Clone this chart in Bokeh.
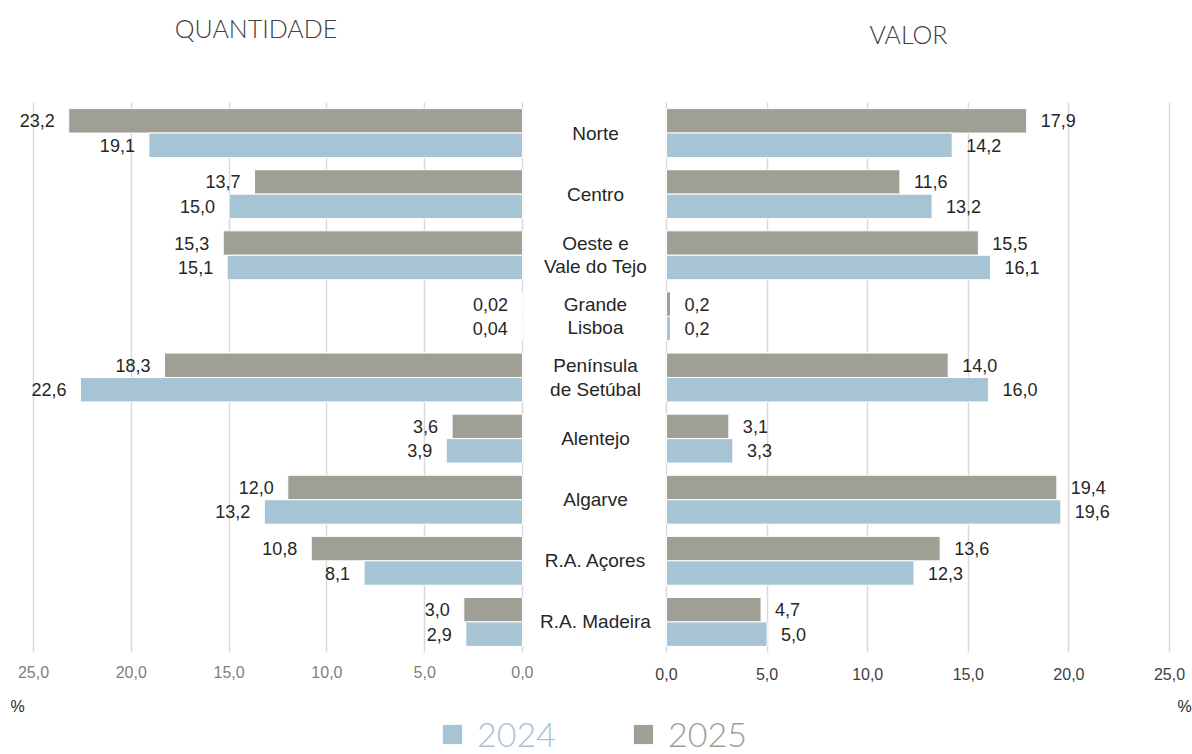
import numpy as np
from bokeh.plotting import figure
from bokeh.layouts import row, column
from bokeh.models import (FactorRange, Range1d, FixedTicker, Label, Legend,
                          LegendItem, ColumnDataSource)
from bokeh.transform import dodge
from bokeh.core.properties import value
from bokeh.embed import file_html
from bokeh.resources import INLINE

# ---------------- data ----------------
regions = ["Norte", "Centro", "Oeste e\nVale do Tejo", "Grande\nLisboa",
           "Península\nde Setúbal", "Alentejo", "Algarve", "R.A. Açores",
           "R.A. Madeira"]
qtd_2024 = [19.1, 15.0, 15.1, 0.04, 22.6, 3.9, 13.2, 8.1, 2.9]
qtd_2025 = [23.2, 13.7, 15.3, 0.02, 18.3, 3.6, 12.0, 10.8, 3.0]
val_2024 = [14.2, 13.2, 16.1, 0.2, 16.0, 3.3, 19.6, 12.3, 5.0]
val_2025 = [17.9, 11.6, 15.5, 0.2, 14.0, 3.1, 19.4, 13.6, 4.7]
tick_values = [0, 5, 10, 15, 20, 25]
tick_labels = ["0,0", "5,0", "10,0", "15,0", "20,0", "25,0"]
years = ["2024", "2025"]
panel_titles = ["QUANTIDADE", "VALOR"]

C2024 = "#A7C4D5"
C2025 = "#A09F96"
GRID = "#D9D9D9"
TXT = "#262626"
NUMFONT = "Liberation Sans"
THIN = "Lato Light"


def fmt(v):
    s = f"{v:.2f}" if v < 0.1 else f"{v:.1f}"
    return s.replace(".", ",")


def plain(p):
    p.outline_line_color = None
    p.background_fill_color = "white"
    p.border_fill_color = "white"
    p.xgrid.visible = False
    p.ygrid.visible = False


def base_fig(width, height, x_range, top, bottom):
    p = figure(width=width, height=height, x_range=x_range,
               y_range=FactorRange(factors=list(reversed(regions))),
               output_backend="svg", toolbar_location=None,
               y_axis_location=None, min_border_left=0, min_border_right=0,
               min_border_top=top, min_border_bottom=bottom)
    p.outline_line_color = None
    p.background_fill_color = "white"
    p.border_fill_color = "white"
    p.ygrid.visible = False
    return p


def style_xaxis(p, color, standoff):
    p.xaxis.ticker = FixedTicker(ticks=tick_values)
    p.xaxis.major_label_overrides = dict(zip(tick_values, tick_labels))
    p.xaxis.axis_line_color = None
    p.xaxis.major_tick_line_color = None
    p.xaxis.minor_tick_line_color = None
    p.xaxis.major_tick_out = 0
    p.xaxis.major_tick_in = 0
    p.xaxis.major_label_standoff = standoff
    p.xaxis.major_label_text_font = NUMFONT
    p.xaxis.major_label_text_font_size = "16px"
    p.xaxis.major_label_text_color = color
    p.xgrid.ticker = FixedTicker(ticks=tick_values)
    p.xgrid.grid_line_color = GRID
    p.xgrid.grid_line_width = 1.5


def add_bars(p, v24, v25, side):
    src = ColumnDataSource(dict(region=regions, v24=v24, v25=v25,
                                l24=[fmt(v) for v in v24],
                                l25=[fmt(v) for v in v25]))
    y25 = dodge("region", 0.2, range=p.y_range)
    y24 = dodge("region", -0.2, range=p.y_range)
    p.hbar(y=y25, left=0, right="v25", height=0.4, fill_color=C2025,
           line_color="white", line_width=1, source=src)
    p.hbar(y=y24, left=0, right="v24", height=0.4, fill_color=C2024,
           line_color="white", line_width=1, source=src)
    off = -14 if side == "left" else 14
    align = "right" if side == "left" else "left"
    for yy, col, xcol in ((y25, "l25", "v25"), (y24, "l24", "v24")):
        p.text(x=xcol, y=yy, text=col, x_offset=off, text_align=align,
               text_baseline="middle", text_font=value(NUMFONT),
               text_font_size="18px", text_color=TXT, source=src)


W = 1192
TOP_H = 60
ROW_H = 630
BOT_H = 64

# ---------------- top: panel titles ----------------
T = figure(width=W, height=TOP_H, x_range=Range1d(0, 1), y_range=Range1d(0, 1),
           output_backend="svg", toolbar_location=None,
           x_axis_location=None, y_axis_location=None, min_border=0)
plain(T)
T.add_layout(Label(x=255.5, y=TOP_H - 27, x_units="screen", y_units="screen",
                   text=panel_titles[0], text_align="center",
                   text_baseline="middle", text_font=THIN,
                   text_font_size="25px", text_color="#404040"))
T.add_layout(Label(x=908, y=TOP_H - 33, x_units="screen", y_units="screen",
                   text=panel_titles[1], text_align="center",
                   text_baseline="middle", text_font=THIN,
                   text_font_size="25px", text_color="#404040"))

# ---------------- left: QUANTIDADE ----------------
L = base_fig(533, ROW_H, Range1d(26.687, -0.562), 42, 36)
style_xaxis(L, "#7F7F7F", 13)
add_bars(L, qtd_2024, qtd_2025, "left")

# ---------------- middle: region names ----------------
M = figure(width=121, height=ROW_H, x_range=Range1d(-1, 1),
           y_range=FactorRange(factors=list(reversed(regions))),
           output_backend="svg", toolbar_location=None,
           x_axis_location=None, y_axis_location=None,
           min_border_left=0, min_border_right=0,
           min_border_top=38, min_border_bottom=38)
plain(M)
msrc = ColumnDataSource(dict(region=regions, x=[0] * len(regions)))
M.text(x="x", y="region", text="region", x_offset=1.5, text_align="center",
       text_baseline="middle", text_font=value(NUMFONT),
       text_font_size="19px", text_color=TXT, text_line_height=1.1,
       source=msrc)

# ---------------- right: VALOR ----------------
R = base_fig(538, ROW_H, Range1d(-0.596, 26.143), 27, 38)
style_xaxis(R, "#404040", 15)
add_bars(R, val_2024, val_2025, "right")

# ---------------- bottom: legend and units ----------------
B = figure(width=W, height=BOT_H, x_range=Range1d(0, 1), y_range=Range1d(0, 1),
           output_backend="svg", toolbar_location=None,
           x_axis_location=None, y_axis_location=None, min_border=0)
plain(B)
nan = np.array([np.nan])
r24 = B.quad(left=nan, right=nan, top=nan, bottom=nan,
             fill_color=C2024, line_color=None)
r25 = B.quad(left=nan, right=nan, top=nan, bottom=nan,
             fill_color=C2025, line_color=None)
for rend, yr, col, xloc in ((r24, years[0], C2024, 440), (r25, years[1], C2025, 631)):
    lg = Legend(items=[LegendItem(label=yr, renderers=[rend])],
                location=(xloc, 0), orientation="horizontal",
                border_line_color=None, background_fill_alpha=0,
                padding=0, margin=0, spacing=0,
                glyph_width=24, glyph_height=24, label_standoff=13,
                label_text_font=THIN, label_text_font_size="34px",
                label_text_color=col)
    B.add_layout(lg)
B.add_layout(Label(x=17, y=BOT_H - 16, x_units="screen", y_units="screen",
                   text="%", text_align="center", text_baseline="middle",
                   text_font=NUMFONT, text_font_size="16px", text_color=TXT))
B.add_layout(Label(x=1184, y=BOT_H - 16, x_units="screen", y_units="screen",
                   text="%", text_align="center", text_baseline="middle",
                   text_font=NUMFONT, text_font_size="16px", text_color=TXT))

layout = column(T, row(L, M, R), B)
open("out.html", "w").write(file_html(layout, INLINE))
